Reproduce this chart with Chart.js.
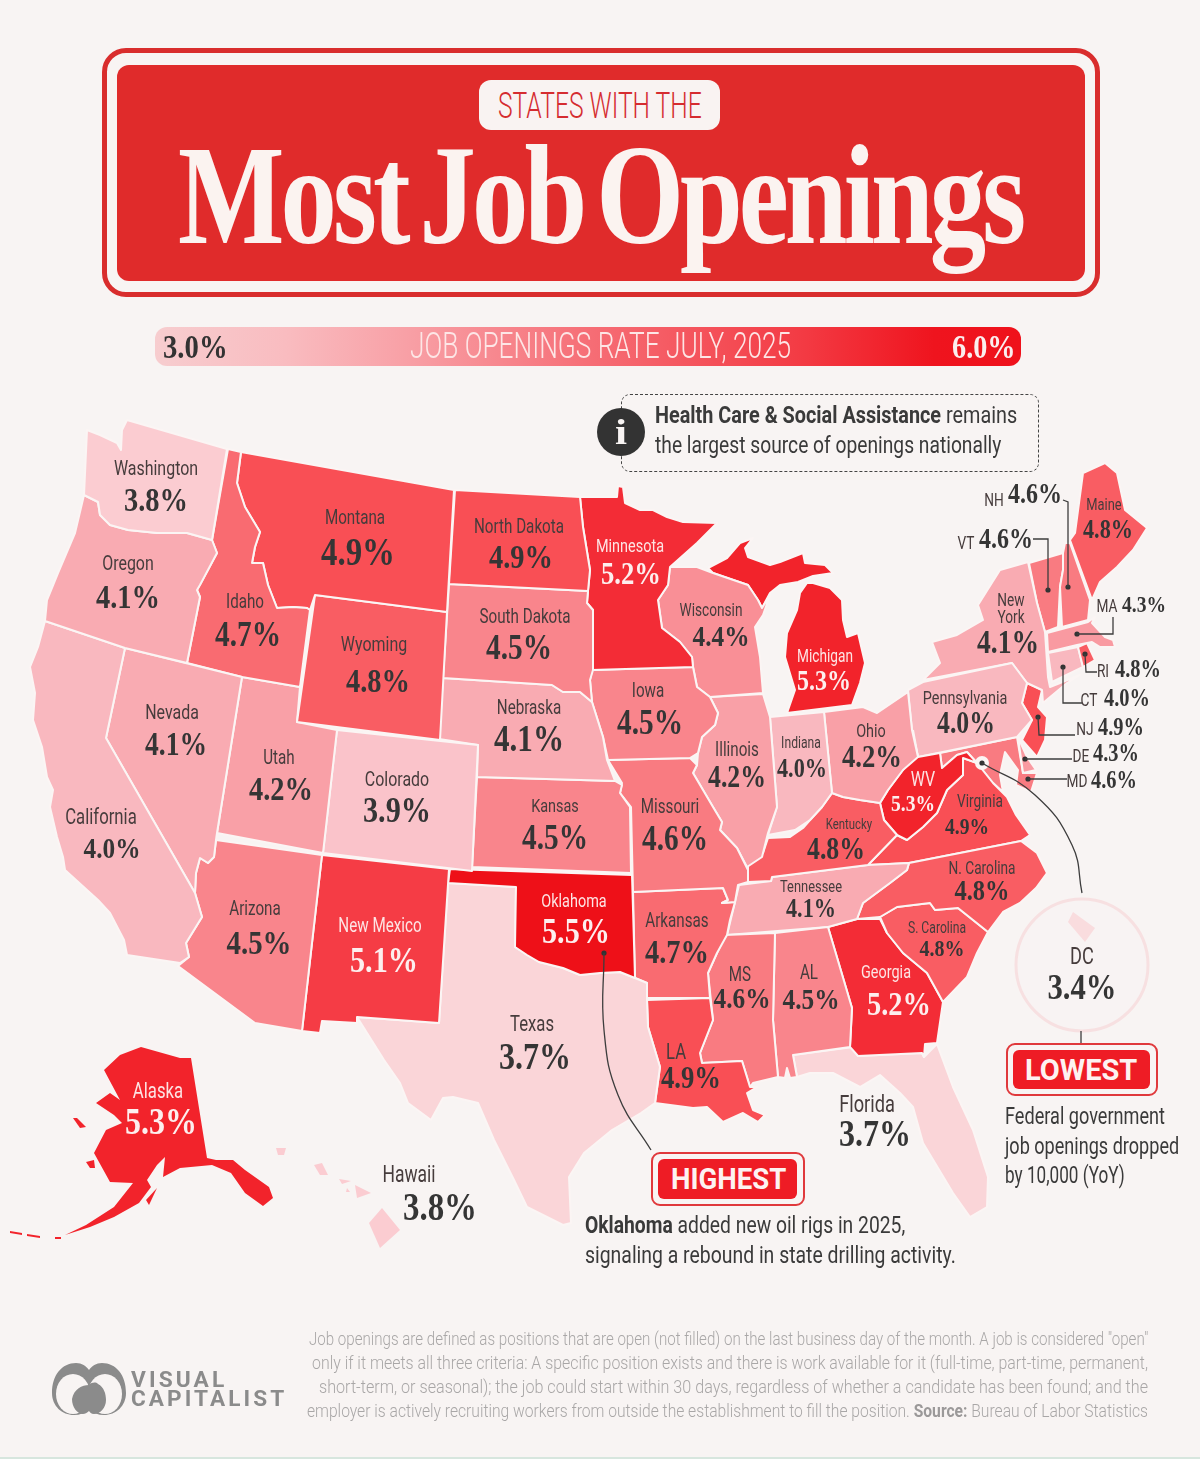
<!DOCTYPE html>
<html lang="en">
<head>
<meta charset="UTF-8">
<title>States With the Most Job Openings</title>
<script src="https://cdn.jsdelivr.net/npm/chart.js@4.4.0/dist/chart.umd.min.js"></script>
<style>
  * { margin: 0; padding: 0; box-sizing: border-box; }
  html, body { width: 1200px; height: 1459px; overflow: hidden; }
  body { background: #f8f4f3; position: relative; font-family: Roboto, sans-serif; color: #3a3a3a; }
  canvas { position: absolute; left: 0; top: 0; }
  .box { position: absolute; }
  .t { position: absolute; white-space: nowrap; line-height: 1; transform-origin: left center; }
  .body-line { font-size: 24px; color: #3a3a3a; }
  .foot { font-size: 19px; font-weight: 300; color: #a9a7a7; }
  .foot b { font-weight: 700; color: #9b9999; }
</style>
</head>
<body>
<canvas id="mapa" width="1200" height="1459"></canvas>

<div class="box" style="left:102px;top:48px;width:998px;height:249px;border:5px solid #d92d2d;border-radius:24px"></div>
<div class="box" style="left:117px;top:65px;width:968px;height:216px;background:#e02b2b;border-radius:12px"></div>
<div class="box" style="left:479px;top:80px;width:241px;height:50px;background:#f9f3f2;border-radius:12px"></div>
<div class="t" data-w="204" style="left:498px;top:106px;font-size:36px;font-weight:300;color:#d52c30">STATES WITH THE</div>
<div class="t" data-w="844" style="left:178px;top:195px;font:bold 141px 'Liberation Serif',serif;color:#fbf3f0;line-height:1;letter-spacing:-0.035em;word-spacing:-0.1em">Most Job Openings</div>

<div class="box" style="left:155px;top:327px;width:866px;height:39px;border-radius:12px;background:linear-gradient(90deg,#f7cdcf 0%,#f9bcc0 15%,#f89ea4 30%,#f66e76 50%,#f33a43 75%,#ef141e 90%,#ef111b 100%)"></div>
<div class="t" data-w="381" style="left:410px;top:346px;font-size:36px;font-weight:300;color:#fde6e6">JOB OPENINGS RATE JULY, 2025</div>
<div class="t" data-w="65" style="left:163px;top:347px;font:bold 34px 'Liberation Serif',serif;color:#333">3.0%</div>
<div class="t" data-w="64" style="left:952px;top:347px;font:bold 34px 'Liberation Serif',serif;color:#fbeeee">6.0%</div>

<div class="box" style="left:621px;top:394px;width:418px;height:78px;border:1px dashed #444;border-radius:9px"></div>
<div class="box" style="left:597px;top:408px;width:48px;height:48px;border-radius:50%;background:#333"></div>
<div class="t" data-w="12" style="left:615px;top:432px;font:bold 36px 'Liberation Serif',serif;color:#f8f4f3">i</div>
<div class="t body-line" data-w="362" style="left:655px;top:415px"><b>Health Care &amp; Social Assistance</b> remains</div>
<div class="t body-line" data-w="346" style="left:655px;top:445px">the largest source of openings nationally</div>

<div class="box" style="left:651px;top:1152px;width:154px;height:54px;border:2px solid #e0393c;border-radius:9px"></div>
<div class="box" style="left:658px;top:1159px;width:139px;height:40px;background:#ee1c25;border-radius:6px"></div>
<div class="t" data-w="115" style="left:671px;top:1179px;font-size:29px;font-weight:700;color:#fdf2f1">HIGHEST</div>
<div class="t body-line" data-w="320" style="left:585px;top:1225px"><b>Oklahoma</b> added new oil rigs in 2025,</div>
<div class="t body-line" data-w="371" style="left:585px;top:1255px">signaling a rebound in state drilling activity.</div>

<div class="box" style="left:1006px;top:1043px;width:152px;height:53px;border:2px solid #e0393c;border-radius:9px"></div>
<div class="box" style="left:1013px;top:1050px;width:137px;height:39px;background:#ee1c25;border-radius:6px"></div>
<div class="t" data-w="112" style="left:1025px;top:1070px;font-size:29px;font-weight:700;color:#fdf2f1">LOWEST</div>
<div class="t body-line" data-w="160" style="left:1005px;top:1116px">Federal government</div>
<div class="t body-line" data-w="174" style="left:1005px;top:1146px">job openings dropped</div>
<div class="t body-line" data-w="120" style="left:1005px;top:1175px">by 10,000 (YoY)</div>

<div class="t foot" data-w="839" style="left:309px;top:1338px">Job openings are defined as positions that are open (not filled) on the last business day of the month. A job is considered "open"</div>
<div class="t foot" data-w="836" style="left:312px;top:1362px">only if it meets all three criteria: A specific position exists and there is work available for it (full-time, part-time, permanent,</div>
<div class="t foot" data-w="829" style="left:319px;top:1386px">short-term, or seasonal); the job could start within 30 days, regardless of whether a candidate has been found; and the</div>
<div class="t foot" data-w="841" style="left:307px;top:1410px">employer is actively recruiting workers from outside the establishment to fill the position. <b>Source:</b> Bureau of Labor Statistics</div>

<svg class="box" style="left:50px;top:1361px" width="78" height="56" viewBox="0 0 78 56">
  <path d="M2 32C2 14 12 2 26 2c6 0 10 3 13 7 3-4 7-7 13-7 14 0 24 12 24 30 0 13-10 22-22 22-6 0-11-2-15-6-4 4-9 6-15 6C12 54 2 45 2 32z" fill="#8b8b8b"/>
  <ellipse cx="23" cy="33" rx="17" ry="20" fill="#f8f4f3"/>
  <ellipse cx="55" cy="33" rx="17" ry="20" fill="#f8f4f3"/>
  <path d="M22 38c2-10 10-14 17-14 3-3 7-3 9-1 6 3 8 10 8 16 0 8-6 14-12 14-3 0-4-2-5-3-2 2-4 3-6 3-6 0-11-7-11-15z" fill="#8b8b8b"/>
</svg>
<div class="t" data-w="96" style="left:131px;top:1380px;font-size:22px;font-weight:700;color:#8b8b8b;letter-spacing:3px">VISUAL</div>
<div class="t" data-w="156" style="left:131px;top:1399px;font-size:22px;font-weight:700;color:#8b8b8b;letter-spacing:3px">CAPITALIST</div>
<div class="box" style="left:0;top:1457px;width:1200px;height:2px;background:#d7e6de"></div>

<script>
// Job openings rate by state, July 2025
const stateNames = ['Washington','Oregon','California','Nevada','Idaho','Montana','Wyoming','Utah','Colorado','Arizona','New Mexico','North Dakota','South Dakota','Nebraska','Kansas','Oklahoma','Texas','Minnesota','Iowa','Missouri','Arkansas','LA','Wisconsin','Illinois','MS','AL','Michigan','Indiana','Ohio','Kentucky','Tennessee','N. Carolina','S. Carolina','Georgia','WV','Virginia','Pennsylvania','New\nYork','Maine','Florida','Hawaii','Alaska','DC','NH','VT','MA','RI','CT','NJ','DE','MD'];
const stateRates = [3.8,4.1,4.0,4.1,4.7,4.9,4.8,4.2,3.9,4.5,5.1,4.9,4.5,4.1,4.5,5.5,3.7,5.2,4.5,4.6,4.7,4.9,4.4,4.2,4.6,4.5,5.3,4.0,4.2,4.8,4.1,4.8,4.8,5.2,5.3,4.9,4.0,4.1,4.8,3.7,3.8,5.3,3.4,4.6,4.6,4.3,4.8,4.0,4.9,4.3,4.6];

// color ramp of the legend bar
const rampRates = [3.4,3.7,3.8,3.9,4.0,4.1,4.2,4.3,4.4,4.5,4.6,4.7,4.8,4.9,5.1,5.2,5.3,5.5];
const rampColors = ['#f9dcde','#fad5d8','#fbccd1','#fac3ca','#f9b8bf','#f9abb2','#f9a0a7','#f99aa1','#f98f96','#f9858c','#f97b81','#f96b71','#f95d63','#f94f55','#f53c45','#f32c36','#f2232b','#ee1018'];

// state outlines in map units, one or more rings per state
const stateOutlines = [
  [[[127,420],[227,449],[212,540],[187,533],[157,533],[128,530],[110,525],[100,515],[98,502],[84,495],[87,430],[100,435],[117,443],[121,450],[122,430]]],
  [[[84,495],[98,502],[100,515],[110,525],[128,530],[157,533],[187,533],[212,540],[217,553],[200,585],[197,590],[200,597],[187,663],[125,648],[45,621],[47,600],[58,573],[75,533]]],
  [[[45,621],[38,647],[30,667],[35,693],[33,720],[42,747],[47,777],[53,790],[50,807],[57,837],[63,857],[65,870],[98,900],[110,913],[124,940],[127,955],[180,963],[189,957],[186,943],[202,917],[195,893],[106,738],[125,648]]],
  [[[125,648],[242,677],[217,833],[216,840],[214,857],[208,863],[200,858],[196,873],[195,893],[106,738]]],
  [[[228,449],[241,452],[237,483],[245,507],[260,532],[255,547],[252,563],[263,563],[268,585],[277,608],[293,607],[307,608],[310,610],[300,687],[242,677],[187,663],[200,597],[197,590],[217,553],[212,540]]],
  [[[241,452],[454,490],[447,612],[315,595],[310,610],[307,608],[293,607],[277,608],[268,585],[263,563],[252,563],[255,547],[260,532],[245,507],[237,483]]],
  [[[315,595],[447,612],[440,740],[297,722]]],
  [[[242,677],[300,687],[297,722],[337,730],[323,853],[217,833]]],
  [[[337,730],[478,745],[472,871],[323,853]]],
  [[[216,840],[322,855],[302,1031],[255,1023],[178,966],[189,957],[186,943],[202,917],[195,893],[196,873],[200,858],[208,863],[214,857]]],
  [[[322,855],[449,869],[439,1023],[357,1017],[357,1023],[322,1021],[320,1033],[302,1031]]],
  [[[455,490],[580,497],[583,527],[590,570],[588,591],[449,584]]],
  [[[449,584],[588,591],[587,603],[593,610],[593,670],[590,680],[592,702],[580,692],[563,692],[552,685],[443,678]]],
  [[[443,678],[552,685],[563,692],[580,692],[592,702],[603,737],[607,760],[615,781],[477,777],[478,745],[439,739]]],
  [[[477,777],[615,781],[622,785],[620,793],[630,807],[631,873],[472,867]]],
  [[[450,869],[632,875],[635,978],[620,972],[600,973],[580,975],[563,968],[539,962],[527,955],[515,947],[516,887],[448,883]]],
  [[[448,883],[516,887],[515,947],[527,955],[539,962],[563,968],[580,975],[600,973],[620,972],[635,978],[647,983],[647,1000],[648,1027],[660,1067],[655,1103],[641,1113],[612,1130],[584,1153],[569,1177],[571,1223],[563,1225],[527,1207],[514,1180],[494,1140],[478,1103],[453,1097],[443,1098],[431,1120],[408,1103],[400,1083],[384,1060],[357,1017],[439,1023]]],
  [[[580,497],[617,497],[618,486],[623,487],[625,503],[640,510],[653,510],[667,517],[683,522],[717,523],[697,543],[670,567],[668,585],[658,600],[662,628],[680,642],[692,657],[693,667],[592,670],[593,610],[587,603],[588,591],[590,570],[583,527]]],
  [[[592,670],[693,667],[697,687],[710,697],[718,713],[715,725],[702,737],[698,753],[690,758],[608,760],[603,737],[592,702],[590,680]]],
  [[[608,760],[690,758],[697,765],[693,773],[713,807],[722,822],[720,830],[737,848],[748,870],[748,882],[738,885],[735,902],[722,903],[728,900],[723,888],[633,892],[631,807],[620,793],[622,783]]],
  [[[633,892],[723,888],[728,900],[722,903],[735,902],[730,920],[727,935],[717,953],[708,973],[710,998],[647,998],[647,983],[635,978]]],
  [[[647,1000],[710,998],[713,1020],[700,1053],[702,1063],[742,1061],[750,1087],[757,1087],[747,1093],[753,1110],[765,1115],[758,1122],[743,1113],[723,1122],[707,1107],[693,1108],[655,1103],[660,1067],[648,1027]]],
  [[[670,567],[697,567],[713,573],[748,585],[758,600],[762,608],[770,595],[763,615],[755,627],[760,657],[763,693],[710,697],[697,687],[693,667],[692,657],[680,642],[662,628],[658,600],[668,585]]],
  [[[710,697],[763,694],[770,717],[777,807],[768,833],[762,857],[747,867],[737,848],[720,830],[722,822],[713,807],[693,773],[697,765],[698,753],[702,737],[715,725],[718,713]]],
  [[[725,935],[775,933],[773,1020],[778,1077],[753,1083],[750,1087],[742,1061],[702,1063],[700,1053],[713,1020],[708,973],[717,953]]],
  [[[775,933],[828,927],[852,1008],[850,1047],[793,1055],[797,1077],[790,1078],[787,1068],[785,1078],[778,1077],[773,1020]]],
  [[[708,568],[727,558],[740,543],[753,538],[745,548],[748,557],[770,565],[780,562],[803,553],[805,563],[825,565],[833,573],[813,576],[798,582],[780,585],[770,593],[762,608],[758,600],[748,585],[713,573]],
   [[813,583],[830,588],[842,600],[843,620],[847,637],[858,633],[865,663],[860,683],[852,705],[787,713],[795,690],[785,657],[787,633],[797,610],[800,593],[807,583]]],
  [[[770,717],[824,712],[832,793],[822,807],[810,820],[795,830],[768,835],[777,807]]],
  [[[824,712],[863,707],[877,713],[908,692],[912,730],[918,757],[903,770],[888,790],[880,803],[860,800],[843,797],[832,793]]],
  [[[748,882],[748,862],[763,853],[768,838],[790,837],[803,828],[810,820],[822,807],[832,793],[843,797],[860,800],[880,803],[884,820],[897,835],[868,865],[772,877],[771,881]]],
  [[[739,885],[771,881],[772,877],[868,865],[909,863],[907,870],[890,883],[863,903],[857,919],[828,927],[727,935],[735,902]]],
  [[[909,863],[1021,841],[1037,853],[1047,873],[1036,888],[1020,903],[1003,912],[988,932],[958,908],[935,910],[930,903],[897,907],[880,917],[857,919],[863,903],[890,883],[907,870]]],
  [[[880,917],[897,907],[930,903],[935,910],[958,908],[988,932],[977,953],[967,977],[943,1002],[927,973],[903,953],[887,933]]],
  [[[828,927],[857,919],[880,919],[887,933],[903,953],[927,973],[943,1002],[937,1043],[925,1044],[924,1057],[922,1053],[858,1056],[850,1047],[852,1008]]],
  [[[913,730],[918,757],[940,753],[942,768],[957,755],[967,752],[977,763],[963,758],[963,775],[947,790],[937,813],[923,827],[907,840],[897,835],[884,820],[880,803],[888,790],[903,770],[912,750]]],
  [[[868,865],[897,835],[907,840],[923,827],[937,813],[947,790],[963,775],[963,758],[977,763],[993,783],[1007,797],[1016,815],[1030,835],[1021,841],[909,863]]],
  [[[908,690],[923,682],[1012,663],[1027,683],[1022,703],[1032,720],[1017,737],[918,757],[912,730]]],
  [[[923,680],[940,663],[932,642],[957,635],[983,620],[978,605],[1000,570],[1028,562],[1037,603],[1045,632],[1048,677],[1050,687],[1080,675],[1067,683],[1043,703],[1042,690],[1027,683],[1012,663]]],
  [[[1070,540],[1075,533],[1083,473],[1105,463],[1117,473],[1125,510],[1147,528],[1133,550],[1117,567],[1100,582],[1092,600]]],
  [[[793,1055],[853,1047],[858,1056],[922,1053],[924,1057],[937,1044],[953,1087],[973,1130],[988,1177],[987,1207],[970,1217],[953,1193],[923,1143],[913,1107],[900,1093],[880,1075],[860,1087],[833,1073],[810,1073],[797,1077]]],
  [[[382,1208],[400,1230],[380,1248],[369,1223]],[[355,1185],[371,1193],[357,1198]],[[339,1179],[351,1181],[342,1184]],[[314,1165],[322,1163],[328,1175],[320,1175]],[[276,1148],[286,1148],[284,1155],[278,1155]],[[347,1188],[350,1192],[346,1192]]],
  [[[141,1047],[180,1058],[191,1058],[207,1158],[216,1160],[233,1160],[245,1170],[269,1187],[273,1198],[263,1206],[245,1193],[231,1173],[212,1165],[180,1168],[163,1177],[165,1157],[157,1165],[147,1180],[151,1187],[139,1203],[114,1217],[90,1227],[65,1235],[86,1225],[114,1207],[133,1183],[110,1182],[94,1153],[106,1130],[122,1123],[114,1115],[96,1103],[110,1093],[120,1100],[104,1070],[120,1055]],
   [[157,1188],[149,1205],[146,1200]],[[73,1118],[77,1118],[86,1127],[80,1128]],[[10,1231],[22,1233],[22,1235],[10,1233]],[[27,1234],[40,1236],[40,1238],[27,1236]],[[55,1237],[61,1237],[61,1239],[55,1239]],[[86,1162],[94,1160],[95,1168],[90,1168]]],
  [[[1068,922],[1073,912],[1095,928],[1085,942]]],
  [[[1065,543],[1070,543],[1090,600],[1088,620],[1062,627],[1060,587],[1063,570],[1063,553]]],
  [[[1029,563],[1063,553],[1063,570],[1060,587],[1058,627],[1045,632],[1037,603]]],
  [[[1047,633],[1088,622],[1095,617],[1092,623],[1105,637],[1113,640],[1115,647],[1100,647],[1092,642],[1077,645],[1048,652]]],
  [[[1078,647],[1087,643],[1095,660],[1083,667]]],
  [[[1048,653],[1078,647],[1083,667],[1052,682]]],
  [[[1027,683],[1042,690],[1038,707],[1047,717],[1045,740],[1037,757],[1022,740],[1032,720],[1022,703]]],
  [[[1018,737],[1027,757],[1036,770],[1023,773]]],
  [[[940,753],[1017,737],[1023,773],[1037,773],[1031,792],[1016,785],[1018,770],[1005,752],[1000,775],[1003,792],[993,783],[977,763],[967,752],[957,755],[942,768]]]
];

// where each label sits: name x, name y, name size, value x, value y, value width
const labelSpots = [
  [156,470,21,156,502,64],[128,565,21,128,599,64],[101,818,22,112,850,57],[172,714,21,176,747,62],[245,603,20,248,637,66],[355,519,20,358,555,74],[374,646,21,378,683,64],[279,759,20,281,791,64],[397,781,21,397,813,68],[255,910,20,259,945,65],[380,927,20,384,963,68],
  [519,528,20,521,559,64],[525,618,20,519,650,66],[529,709,20,529,741,70],[555,807,19,555,840,66],[574,902,19,576,934,68],[532,1025,22,535,1059,72],[630,547,19,631,576,60],[648,692,20,650,725,66],[670,808,20,675,841,66],[677,922,20,677,954,64],[676,1053,22,691,1080,60],
  [711,611,18,721,638,57],[737,751,20,737,779,58],[740,976,20,742,1000,57],[809,974,20,811,1001,57],[825,657,18,824,683,54],[801,744,16,802,770,50],[871,732,19,872,759,60],[849,825,15,836,851,58],[811,888,17,811,910,50],[982,869,18,982,892,55],[937,929,16,942,950,45],
  [886,973,19,899,1006,64],[923,781,21,913,805,44],[980,802,18,967,828,44],[965,699,19,966,725,58],[1011,610,18,1008,645,62],[1104,506,17,1108,531,50],[867,1106,24,875,1136,72],[409,1176,23,440,1210,74],[158,1092,22,161,1124,72],[1082,958,24,1082,990,69],
  [994,501,18,1035,496,54],[966,544,18,1006,541,54],[1107,607,18,1144,606,44],[1103,672,18,1138,671,46],[1089,701,18,1127,700,46],[1085,730,18,1121,729,46],[1081,757,18,1116,755,46],[1077,782,18,1114,782,46]
];
const lightLabels = ['New Mexico','Oklahoma','Minnesota','Michigan','Georgia','WV','Alaska'];

// leader lines from the small states to their labels
const leaderLines = [
  [[1063,500],[1068,502],[1068,587]],
  [[1033,539],[1048,539],[1048,590]],
  [[1113,617],[1113,634],[1077,634]],
  [[1085,654],[1086,672],[1097,672]],
  [[1063,667],[1063,703],[1082,703]],
  [[1038,717],[1039,735],[1075,735]],
  [[1025,759],[1072,759]],
  [[1028,779],[1067,779]],
  [[1081,1031],[1081,1043]]
];
const curvedLeaders = [
  [[604,953],[604,1030],[618,1095],[651,1150]],
  [[982,763],[1035,795],[1072,845],[1082,893]]
];
const leaderDots = [[1068,587],[1048,590],[1077,634],[1085,654],[1063,667],[1038,717],[1025,759],[1028,779],[604,953],[982,763]];

function rateColor(r) {
  return rampColors[rampRates.indexOf(r)];
}
function toPts(ring) {
  return ring.map(p => ({x: p[0], y: p[1]}));
}

const datasets = [];

// leaders first so they stay on top of the states
leaderLines.forEach(l => {
  datasets.push({data: toPts(l), showLine: true, borderColor: '#3d3d3d', borderWidth: 1.3, pointRadius: 0});
});
curvedLeaders.forEach(l => {
  datasets.push({data: toPts(l), showLine: true, tension: 0.45, borderColor: '#3d3d3d', borderWidth: 1.3, pointRadius: 0});
});
datasets.push({data: toPts(leaderDots), pointRadius: 2.6, pointBackgroundColor: '#333', pointBorderWidth: 0});
datasets.push({data: toPts([[982,763]]), pointRadius: 7, pointBackgroundColor: '#fbf5f4', pointBorderWidth: 0});

// DC shape sits inside its round badge
stateOutlines[stateNames.indexOf('DC')].forEach(ring => {
  datasets.push({data: toPts(ring.concat([ring[0]])), showLine: true, fill: 'shape', backgroundColor: rateColor(3.4), borderWidth: 0, pointRadius: 0});
});
datasets.push({data: toPts([[1082,965]]), pointRadius: 66, pointBackgroundColor: '#f8f3f3', pointBorderColor: '#f7e0e1', pointBorderWidth: 3});

stateNames.forEach((name, i) => {
  if (name === 'DC') return;
  const island = name === 'Alaska' || name === 'Hawaii';
  stateOutlines[i].forEach(ring => {
    datasets.push({
      label: name,
      data: toPts(ring.concat([ring[0]])),
      showLine: true,
      fill: 'shape',
      backgroundColor: rateColor(stateRates[i]),
      borderColor: '#fbf5f4',
      borderWidth: island ? 0 : 2,
      borderJoinStyle: 'round',
      pointRadius: 0
    });
  });
});

const rotulos = {
  id: 'rotulos',
  afterDatasetsDraw(chart) {
    const {ctx, scales} = chart;
    stateNames.forEach((name, i) => {
      const [nx, ny, ns, vx, vy, vw] = labelSpots[i];
      const light = lightLabels.includes(name);
      ctx.save();
      ctx.fillStyle = light ? '#fde4e4' : '#463c3c';
      ctx.textAlign = 'center';
      ctx.textBaseline = 'middle';
      ctx.font = "400 " + ns + "px Roboto, sans-serif";
      name.split('\n').forEach((part, k, all) => {
        ctx.save();
        ctx.translate(scales.x.getPixelForValue(nx), scales.y.getPixelForValue(ny + (k - (all.length - 1) / 2) * 17));
        ctx.scale(0.76, 1);
        ctx.fillText(part, 0, 0);
        ctx.restore();
      });
      const text = stateRates[i].toFixed(1) + '%';
      const size = vw * 0.53;
      ctx.font = "bold " + size + "px 'Liberation Serif', serif";
      ctx.fillStyle = light ? '#fdeeee' : '#353535';
      ctx.translate(scales.x.getPixelForValue(vx), scales.y.getPixelForValue(vy));
      ctx.scale(vw / ctx.measureText(text).width, 1);
      ctx.fillText(text, 0, 0);
      ctx.restore();
    });
  }
};

new Chart(document.getElementById('mapa'), {
  type: 'scatter',
  data: {datasets},
  options: {
    responsive: false,
    animation: false,
    layout: {padding: 0, autoPadding: false},
    elements: {line: {tension: 0}},
    plugins: {legend: {display: false}, tooltip: {enabled: false}},
    scales: {
      x: {type: 'linear', min: 0, max: 1200, display: false},
      y: {type: 'linear', min: 0, max: 1459, reverse: true, display: false}
    }
  },
  plugins: [rotulos]
});

// squeeze the header and footer text to its measured width
document.querySelectorAll('.t').forEach(el => {
  const k = Number(el.dataset.w) / el.offsetWidth;
  el.style.transform = 'translateY(-50%) scaleX(' + k + ')';
});
</script>
</body>
</html>
